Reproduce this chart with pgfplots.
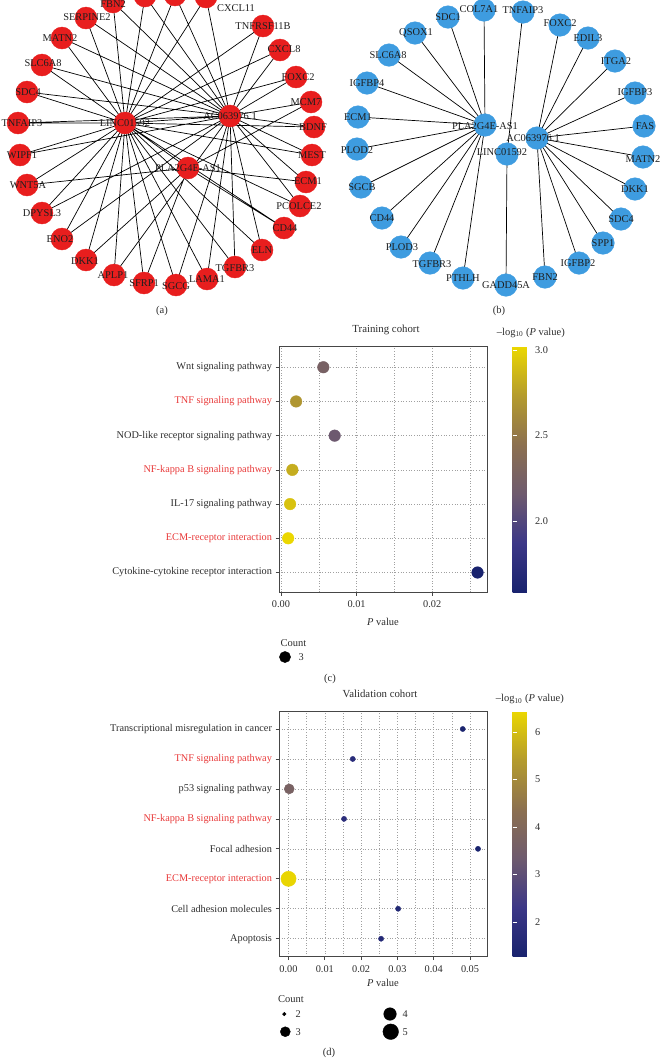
\documentclass[border=0pt]{standalone}
\usepackage{pgfplots}
\usepackage{pgfplotstable}
\pgfplotsset{compat=1.18}
\usepackage{fontspec}
\setmainfont{Liberation Serif}

\definecolor{txt}{RGB}{45,45,45}
\definecolor{lblc}{RGB}{30,30,30}
\definecolor{pathred}{RGB}{232,58,58}
\definecolor{nodered}{RGB}{232,30,30}
\definecolor{nodeblue}{RGB}{62,156,224}
\definecolor{gridc}{RGB}{160,160,160}
\definecolor{framec}{RGB}{70,70,70}

\pgfkeys{/pgf/number format/assume math mode=true}

\pgfplotstableread{
p y m
0.0056 7 2.25
0.0020 6 2.70
0.0071 5 2.15
0.0015 4 2.82
0.0012 3 2.92
0.00095 2 3.02
0.0260 1 1.585
}\trainingdata

\pgfplotstableread{
p y m r
0.0480 8 1.32 2.6
0.0177 7 1.75 2.6
0.0002 6 3.70 5.0
0.0153 5 1.82 2.6
0.0522 4 1.28 2.6
0.0000004 3 6.40 7.6
0.0302 2 1.52 2.6
0.0255 1 1.59 2.6
}\validationdata

\pgfplotsset{
  colormap={kegg}{rgb255=(25,35,110) rgb255=(60,55,135) rgb255=(110,90,110) rgb255=(140,112,80) rgb255=(180,155,45) rgb255=(235,215,0)},
  dotplot/.style={
    scale only axis,
    font=\fontsize{10.3}{12}\selectfont,
    axis line style={framec, line width=0.9pt},
    tick style={framec, line width=0.7pt},
    tick align=outside, major tick length=3.5pt, minor tick length=0pt,
    xtick pos=left, ytick pos=left,
    scaled x ticks=false,
    xmajorgrids, xminorgrids, ymajorgrids,
    grid style={gridc, line width=0.6pt, dash pattern=on 0.7pt off 2pt},
    minor grid style={gridc, line width=0.6pt, dash pattern=on 0.7pt off 2pt},
    tick label style={text=txt, font=\fontsize{10.3}{12}\selectfont},
    xticklabel style={yshift=-1.5pt},
    title style={text=txt, font=\fontsize{10.8}{12}\selectfont, at={(axis description cs:0.5,1)}, anchor=center, yshift=11pt},
    xlabel style={text=txt, font=\fontsize{10.5}{12}\selectfont, at={(axis description cs:0.5,0)}, anchor=center},
    colormap name=kegg,
    colorbar,
    colorbar style={
      at={(parent axis.north east)}, anchor=north west, xshift=17pt,
      width=19pt, scale only axis,
      axis line style={draw=none},
      ytick pos=both, yticklabel pos=right,
      tick align=inside, major tick length=4pt,
      major tick style={draw=white, line width=0.8pt},
      tick label style={text=txt, font=\fontsize{10.3}{12}\selectfont},
    },
    scatter/use mapped color={draw=mapped color, fill=mapped color},
  },
  netlabels/.style={only marks, mark=none, nodes near coords, point meta=explicit symbolic,
    every node near coord/.append style={anchor=center, inner sep=0pt, font=\fontsize{10.4}{12}\selectfont, text=lblc}},
}

\begin{document}
\begin{tikzpicture}[x=1pt,y=1pt]
\useasboundingbox (0,0) rectangle (662,-1058);
\clip (0,0) rectangle (662,-1058);

% ---------------- networks (a) and (b) ----------------
\begin{axis}[at={(0pt,0pt)}, anchor=north west, scale only axis, width=662pt, height=300pt,
  xmin=0, xmax=662, ymin=0, ymax=300, y dir=reverse, hide axis, clip=false]
% edges (a)
\addplot[black, line width=0.7pt, unbounded coords=jump] coordinates {
(125,123) (113,2) (230,116) (nan,nan)
(125,123) (145,-4) (230,116) (nan,nan)
(125,123) (175,-5) (230,116) (nan,nan)
(125,123) (206,-3) (230,116) (nan,nan)
(125,123) (263,26) (230,116) (nan,nan)
(125,123) (280,50) (230,116) (nan,nan)
(125,123) (296,77) (230,116) (nan,nan)
(188,168) (311,102) (230,116) (nan,nan)
(125,123) (314,127) (230,116) (nan,nan)
(125,123) (312,155) (230,116) (nan,nan)
(188,168) (306,182) (230,116) (nan,nan)
(125,123) (300,206) (230,116) (nan,nan)
(125,123) (284,228) (188,168) (nan,nan)
(125,123) (262,250) (230,116) (nan,nan)
(125,123) (235,267) (230,116) (nan,nan)
(125,123) (207,279) (230,116) (nan,nan)
(125,123) (176,285) (230,116) (nan,nan)
(125,123) (144,283) (188,168) (nan,nan)
(125,123) (114,275) (230,116) (nan,nan)
(188,168) (86,260) (125,123) (nan,nan)
(125,123) (62,239) (230,116) (nan,nan)
(125,123) (42,213) (230,116) (nan,nan)
(125,123) (27,185) (188,168) (nan,nan)
(125,123) (20,155) (230,116) (nan,nan)
(125,123) (18,123) (230,116) (nan,nan)
(125,123) (27,92) (230,116) (nan,nan)
(125,123) (42,65) (230,116) (nan,nan)
(125,123) (62,38) (230,116) (nan,nan)
(125,123) (86,18) (230,116) (nan,nan)
(125,123) (230,116) (nan,nan)
(125,123) (188,168)
};
% edges (b)
\addplot[black, line width=0.7pt, unbounded coords=jump] coordinates {
(485,125) (448,17) (nan,nan)
(485,125) (484,10) (nan,nan)
(485,125) (415,33) (nan,nan)
(485,125) (389,55) (nan,nan)
(485,125) (367,83) (nan,nan)
(485,125) (358,117) (nan,nan)
(485,125) (357,149) (nan,nan)
(485,125) (361,187) (nan,nan)
(485,125) (382,218) (nan,nan)
(485,125) (401,247) (nan,nan)
(485,125) (430,263) (nan,nan)
(485,125) (463,278) (nan,nan)
(537,138) (560,25) (nan,nan)
(537,138) (588,38) (nan,nan)
(537,138) (615,61) (nan,nan)
(537,138) (635,93) (nan,nan)
(537,138) (644,126) (nan,nan)
(537,138) (643,157) (nan,nan)
(537,138) (635,189) (nan,nan)
(537,138) (621,219) (nan,nan)
(537,138) (603,243) (nan,nan)
(537,138) (579,263) (nan,nan)
(537,138) (545,277) (nan,nan)
(507,154) (523,12) (nan,nan)
(507,154) (506,285)
};
% nodes (a)
\addplot[only marks, mark=*, mark size=11pt, nodered, mark options={draw=nodered, fill=nodered}] table {
x y
113 2
145 -4
175 -5
206 -3
263 26
280 50
296 77
311 102
314 127
312 155
306 182
300 206
284 228
262 250
235 267
207 279
176 285
144 283
114 275
86 260
62 239
42 213
27 185
20 155
18 123
27 92
42 65
62 38
86 18
125 123
230 116
188 168
};
% nodes (b)
\addplot[only marks, mark=*, mark size=11.3pt, nodeblue, mark options={draw=nodeblue, fill=nodeblue}] table {
x y
448 17
484 10
523 12
560 25
588 38
615 61
635 93
644 126
643 157
635 189
621 219
603 243
579 263
545 277
506 285
463 278
430 263
401 247
382 218
361 187
357 149
358 117
367 83
389 55
415 33
485 125
537 138
507 154
};
% labels (a)
\addplot[netlabels] table[meta=label] {
x y label
113 4 FBN2
236 8 CXCL11
263 26 TNFRSF11B
284 49 CXCL8
298 77 FOXC2
306 102 MCM7
313 127 BDNF
312 155 MEST
308 181 ECM1
299 206 PCOLCE2
285 228 CD44
262 250 ELN
235 268 TGFBR3
207 279 LAMA1
176 286 SGCG
144 283 SFRP1
113 275 APLP1
85 261 DKK1
60 239 ENO2
42 213 DPYSL3
28 185 WNT5A
22 155 WIPF1
22 123 TNFAIP3
28 92 SDC4
43 63 SLC6A8
60 38 MATN2
87 17 SERPINE2
125 123 LINC01592
230 116 AC063976.1
188 168 PLA2G4E-AS1
};
% labels (b)
\addplot[netlabels] table[meta=label] {
x y label
448 17 SDC1
479 9 COL7A1
523 10 TNFAIP3
560 23 FOXC2
588 38 EDIL3
616 61 ITGA2
635 92 IGFBP3
645 126 FAS
643 159 MATN2
635 189 DKK1
621 219 SDC4
603 243 SPP1
578 263 IGFBP2
545 277 FBN2
506 285 GADD45A
463 278 PTHLH
432 264 TGFBR3
402 247 PLOD3
382 218 CD44
362 187 SGCB
357 150 PLOD2
358 117 ECM1
367 83 IGFBP4
388 55 SLC6A8
416 33 QSOX1
485 126 PLA2G4E-AS1
533 138 AC063976.1
502 152 LINC01592
};
\end{axis}

% ---------------- (c) training cohort ----------------
\begin{axis}[dotplot,
  at={(279pt,-592pt)}, anchor=south west,
  width=208pt, height=245.3pt,
  xmin=-0.000265, xmax=0.02725, ymin=0.43, ymax=7.6,
  xtick={0,0.01,0.02}, xticklabels={0.00,0.01,0.02},
  minor xtick={0.005,0.015,0.025},
  ytick={1,2,3,4,5,6,7},
  yticklabels={Cytokine-cytokine receptor interaction, \textcolor{pathred}{ECM-receptor interaction}, IL-17 signaling pathway, \textcolor{pathred}{NF-kappa B signaling pathway}, NOD-like receptor signaling pathway, \textcolor{pathred}{TNF signaling pathway}, Wnt signaling pathway},
  title={Training cohort},
  title style={xshift=3pt},
  xlabel={\textit{P} value},
  xlabel style={yshift=-30pt},
  point meta min=1.585, point meta max=3.02,
  colorbar style={ytick={2,2.5,3}, yticklabel style={/pgf/number format/.cd, fixed, fixed zerofill, precision=1}},
]
\addplot[scatter, only marks, mark=*, mark size=5.8pt, point meta=explicit] table[x=p, y=y, meta=m] \trainingdata;
\end{axis}

% ---------------- (d) validation cohort ----------------
\begin{axis}[dotplot,
  at={(279pt,-956.7pt)}, anchor=south west,
  width=208pt, height=245.7pt,
  xmin=-0.00262, xmax=0.05468, ymin=0.4, ymax=8.6,
  xtick={0,0.01,0.02,0.03,0.04,0.05}, xticklabels={0.00,0.01,0.02,0.03,0.04,0.05},
  minor xtick={0.005,0.015,0.025,0.035,0.045},
  ytick={1,2,3,4,5,6,7,8},
  yticklabels={Apoptosis, Cell adhesion molecules, \textcolor{pathred}{ECM-receptor interaction}, Focal adhesion, \textcolor{pathred}{NF-kappa B signaling pathway}, p53 signaling pathway, \textcolor{pathred}{TNF signaling pathway}, Transcriptional misregulation in cancer},
  title={Validation cohort},
  title style={xshift=-3pt},
  xlabel={\textit{P} value},
  xlabel style={yshift=-26pt},
  point meta min=1.27, point meta max=6.44,
  colorbar style={ytick={2,3,4,5,6}},
]
\addplot[scatter, only marks, mark=*, point meta=explicit, visualization depends on={\thisrow{r} \as \rad},
  scatter/@pre marker code/.append style={/tikz/mark size=\rad}] table[x=p, y=y, meta=m] \validationdata;
\end{axis}

% ---------------- Count legends (hidden axis in picture pixels) ----------------
\begin{axis}[at={(0pt,0pt)}, anchor=north west, scale only axis, width=662pt, height=1058pt,
  xmin=0, xmax=662, ymin=0, ymax=1058, y dir=reverse, hide axis, clip=false,
  colormap={blk}{rgb255=(0,0,0) rgb255=(0,0,0)}]
\addplot[scatter, only marks, mark=*, black, point meta=explicit,
  scatter/use mapped color={draw=black, fill=black},
  visualization depends on={\thisrow{r} \as \rad},
  scatter/@pre marker code/.append style={/tikz/mark size=\rad}] table[meta=r] {
x y r
285 657 5.6
284.3 1014 1.8
285.3 1031.7 5.0
390 1014 6.3
390.7 1031.7 7.8
};
\addplot[netlabels, every node near coord/.append style={anchor=west, text=txt, font=\fontsize{10.3}{12}\selectfont}] table[meta=label] {
x y label
298.5 657 3
295.5 1014 2
295.5 1031.7 3
402.5 1014 4
402.5 1031.7 5
};
\end{axis}

% ---------------- texts ----------------
\begin{scope}[font=\fontsize{10.5}{12}\selectfont, text=txt]
\node at (162pt,-311pt) {(a)};
\node at (499pt,-311pt) {(b)};
\node at (330pt,-679pt) {(c)};
\node at (329pt,-1052.7pt) {(d)};
\node at (293.5pt,-643pt) {Count};
\node at (291pt,-999pt) {Count};
\node[anchor=west, inner sep=0pt] at (496.7pt,-332.7pt) {--log\textsubscript{10} (\textit{P} value)};
\node[anchor=west, inner sep=0pt] at (495.7pt,-699pt) {--log\textsubscript{10} (\textit{P} value)};
\end{scope}
\end{tikzpicture}
\end{document}
